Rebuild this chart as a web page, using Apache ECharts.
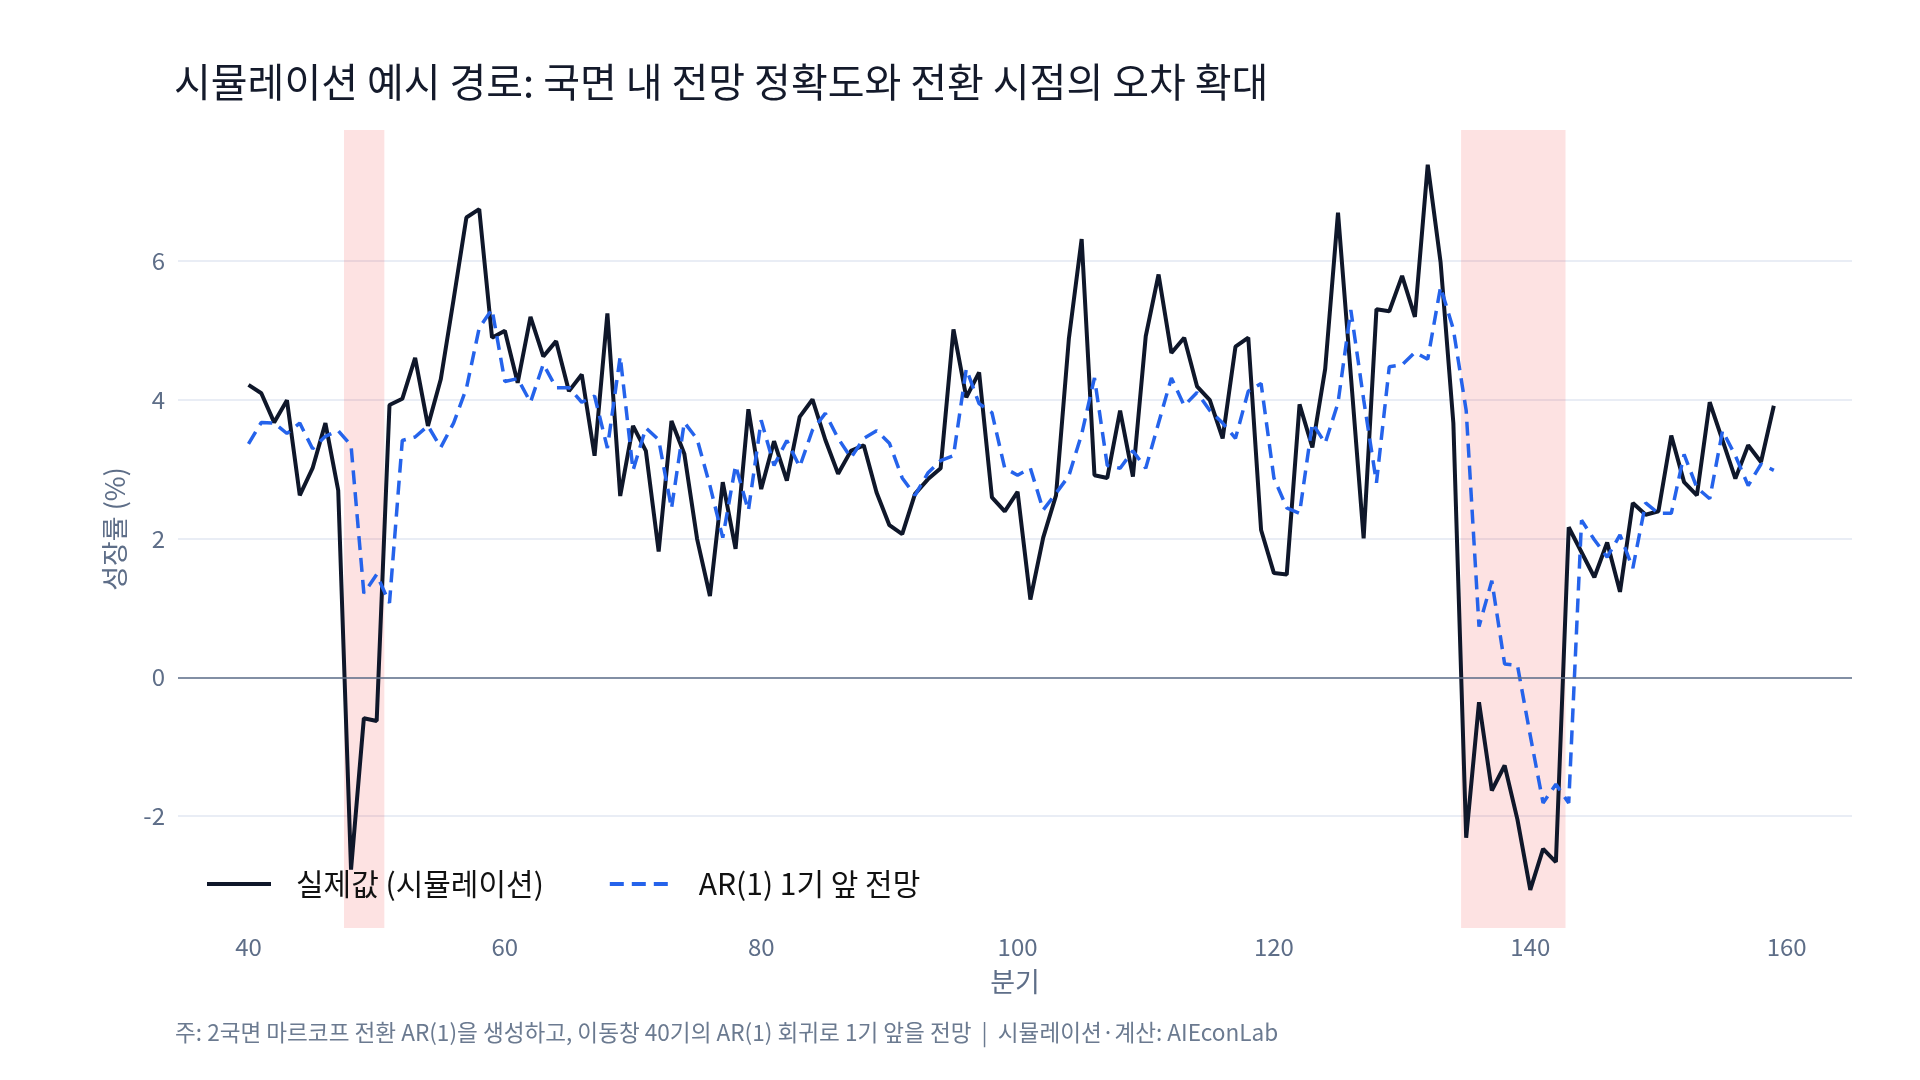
<!DOCTYPE html>
<html>
<head>
<meta charset="utf-8">
<title>시뮬레이션 예시 경로</title>
<script src="https://cdn.jsdelivr.net/npm/echarts@6/dist/echarts.min.js"></script>
<style>
  html, body { margin: 0; padding: 0; background: #fff; }
  #chart { width: 1920px; height: 1080px; }
</style>
</head>
<body>
<div id="chart"></div>
<script>
// 분기 (x) 40 ~ 159
const quarters = [
  40, 41, 42, 43, 44, 45, 46, 47, 48, 49, 50, 51, 52, 53, 54, 55, 56, 57, 58, 59,
  60, 61, 62, 63, 64, 65, 66, 67, 68, 69, 70, 71, 72, 73, 74, 75, 76, 77, 78, 79,
  80, 81, 82, 83, 84, 85, 86, 87, 88, 89, 90, 91, 92, 93, 94, 95, 96, 97, 98, 99,
  100, 101, 102, 103, 104, 105, 106, 107, 108, 109, 110, 111, 112, 113, 114, 115, 116, 117, 118, 119,
  120, 121, 122, 123, 124, 125, 126, 127, 128, 129, 130, 131, 132, 133, 134, 135, 136, 137, 138, 139,
  140, 141, 142, 143, 144, 145, 146, 147, 148, 149, 150, 151, 152, 153, 154, 155, 156, 157, 158, 159
]

// 실제값 (시뮬레이션)
const actual = [
  4.21, 4.09, 3.67, 3.99, 2.62, 3.01, 3.66, 2.69, -2.77, -0.59, -0.63, 3.92, 4.01, 4.60, 3.62, 4.29, 5.44, 6.62, 6.74, 4.89,
  4.99, 4.24, 5.19, 4.62, 4.84, 4.12, 4.36, 3.19, 5.24, 2.61, 3.62, 3.26, 1.81, 3.69, 3.22, 1.99, 1.17, 2.81, 1.85, 3.86,
  2.71, 3.40, 2.83, 3.75, 4.00, 3.42, 2.93, 3.26, 3.34, 2.66, 2.19, 2.06, 2.64, 2.85, 3.01, 5.01, 4.03, 4.39, 2.59, 2.39,
  2.67, 1.12, 2.01, 2.62, 4.87, 6.31, 2.91, 2.87, 3.84, 2.89, 4.91, 5.80, 4.67, 4.89, 4.19, 3.99, 3.44, 4.76, 4.89, 2.12,
  1.50, 1.48, 3.93, 3.31, 4.44, 6.69, 4.35, 2.00, 5.30, 5.27, 5.78, 5.19, 7.38, 5.98, 3.66, -2.31, -0.36, -1.63, -1.27, -2.05,
  -3.06, -2.47, -2.66, 2.16, 1.80, 1.44, 1.94, 1.23, 2.51, 2.34, 2.39, 3.48, 2.81, 2.62, 3.96, 3.41, 2.86, 3.34, 3.10, 3.91
]

// AR(1) 1기 앞 전망
const forecast = [
  3.36, 3.67, 3.66, 3.51, 3.66, 3.29, 3.47, 3.55, 3.34, 1.21, 1.48, 1.07, 3.41, 3.46, 3.62, 3.31, 3.66, 4.16, 5.03, 5.30,
  4.26, 4.30, 3.96, 4.51, 4.17, 4.17, 3.96, 4.05, 3.30, 4.62, 2.98, 3.59, 3.42, 2.43, 3.67, 3.43, 2.76, 2.01, 3.05, 2.40,
  3.70, 3.05, 3.41, 3.03, 3.56, 3.80, 3.44, 3.16, 3.44, 3.55, 3.37, 2.87, 2.62, 2.94, 3.12, 3.19, 4.44, 3.94, 3.81, 3.01,
  2.91, 3.01, 2.41, 2.65, 2.90, 3.50, 4.31, 3.05, 3.01, 3.26, 3.01, 3.66, 4.31, 3.91, 4.10, 3.84, 3.66, 3.44, 4.12, 4.23,
  2.87, 2.44, 2.36, 3.66, 3.37, 3.95, 5.29, 4.00, 2.80, 4.47, 4.50, 4.68, 4.58, 5.62, 5.01, 3.84, 0.73, 1.39, 0.19, 0.17,
  -0.84, -1.81, -1.54, -1.81, 2.26, 1.98, 1.73, 2.05, 1.57, 2.51, 2.36, 2.36, 3.21, 2.73, 2.57, 3.55, 3.19, 2.76, 3.07, 2.98
]

// 침체 국면 구간 (분기)
const regimeBands = [
  [47.45, 50.6],
  [134.6, 142.75]
]

const xTicks = [40, 60, 80, 100, 120, 140, 160]
const yTicks = [-2, 0, 2, 4, 6]

const seriesNames = ['실제값 (시뮬레이션)', 'AR(1) 1기 앞 전망']

const pair = (vals) => vals.map((v, i) => [quarters[i], v])

const axisGray = '#5e6e88'
const gridColor = '#e9edf5'

let myChart = echarts.init(document.getElementById('chart'))
myChart.setOption({
  backgroundColor: '#ffffff',
  animation: false,
  textStyle: {
    fontFamily: '"Noto Sans CJK KR", "Noto Sans", sans-serif'
  },
  title: [
    {
      text: '시뮬레이션 예시 경로: 국면 내 전망 정확도와 전환 시점의 오차 확대',
      left: 169,
      top: 57,
      textStyle: {
        color: '#141a2b',
        fontSize: 40,
        fontWeight: 'normal'
      }
    },
    {
      text: '주: 2국면 마르코프 전환 AR(1)을 생성하고, 이동창 40기의 AR(1) 회귀로 1기 앞을 전망  |  시뮬레이션·계산: AIEconLab',
      left: 170,
      top: 1016,
      textStyle: {
        color: '#6b7a90',
        fontSize: 22.6,
        fontWeight: 'normal'
      }
    }
  ],
  grid: {
    left: 178,
    right: 68,
    top: 130,
    bottom: 152
  },
  legend: {
    data: seriesNames,
    left: 200,
    top: 864,
    itemWidth: 64,
    itemHeight: 14,
    itemGap: 64,
    itemStyle: {opacity: 0},
    lineStyle: {width: 4},
    textStyle: {
      color: '#111111',
      fontSize: 30,
      padding: [0, 0, 0, 20]
    }
  },
  xAxis: {
    type: 'value',
    min: 34.5,
    max: 165.1,
    name: '분기',
    nameLocation: 'middle',
    nameGap: 40,
    nameTextStyle: {
      color: axisGray,
      fontSize: 27
    },
    axisLine: {show: false},
    axisTick: {show: false, customValues: xTicks},
    splitLine: {show: false},
    axisLabel: {
      customValues: xTicks,
      color: axisGray,
      fontSize: 24,
      margin: 7
    }
  },
  yAxis: {
    type: 'value',
    min: -3.61,
    max: 7.88,
    name: '성장률 (%)',
    nameLocation: 'middle',
    nameGap: 50,
    nameTextStyle: {
      color: axisGray,
      fontSize: 27
    },
    axisLine: {show: false},
    axisTick: {show: false, customValues: yTicks},
    splitLine: {
      show: true,
      lineStyle: {color: gridColor, width: 2}
    },
    axisLabel: {
      customValues: yTicks,
      color: axisGray,
      fontSize: 24,
      margin: 13
    }
  },
  series: [
    {
      name: seriesNames[0],
      type: 'line',
      symbol: 'none',
      showSymbol: false,
      data: pair(actual),
      lineStyle: {color: '#0f172a', width: 4},
      itemStyle: {color: '#0f172a'},
      z: 3,
      markArea: {
        silent: true,
        itemStyle: {color: 'rgba(244, 63, 63, 0.15)'},
        data: regimeBands.map(b => [{xAxis: b[0]}, {xAxis: b[1]}])
      },
      markLine: {
        silent: true,
        symbol: 'none',
        label: {show: false},
        lineStyle: {color: '#5f6f88', width: 1.6, type: 'solid'},
        data: [{yAxis: 0}]
      }
    },
    {
      name: seriesNames[1],
      type: 'line',
      symbol: 'none',
      showSymbol: false,
      data: pair(forecast),
      lineStyle: {color: '#2563eb', width: 3.5, type: [14, 8]},
      itemStyle: {color: '#2563eb'},
      z: 4
    }
  ]
})
</script>
</body>
</html>
